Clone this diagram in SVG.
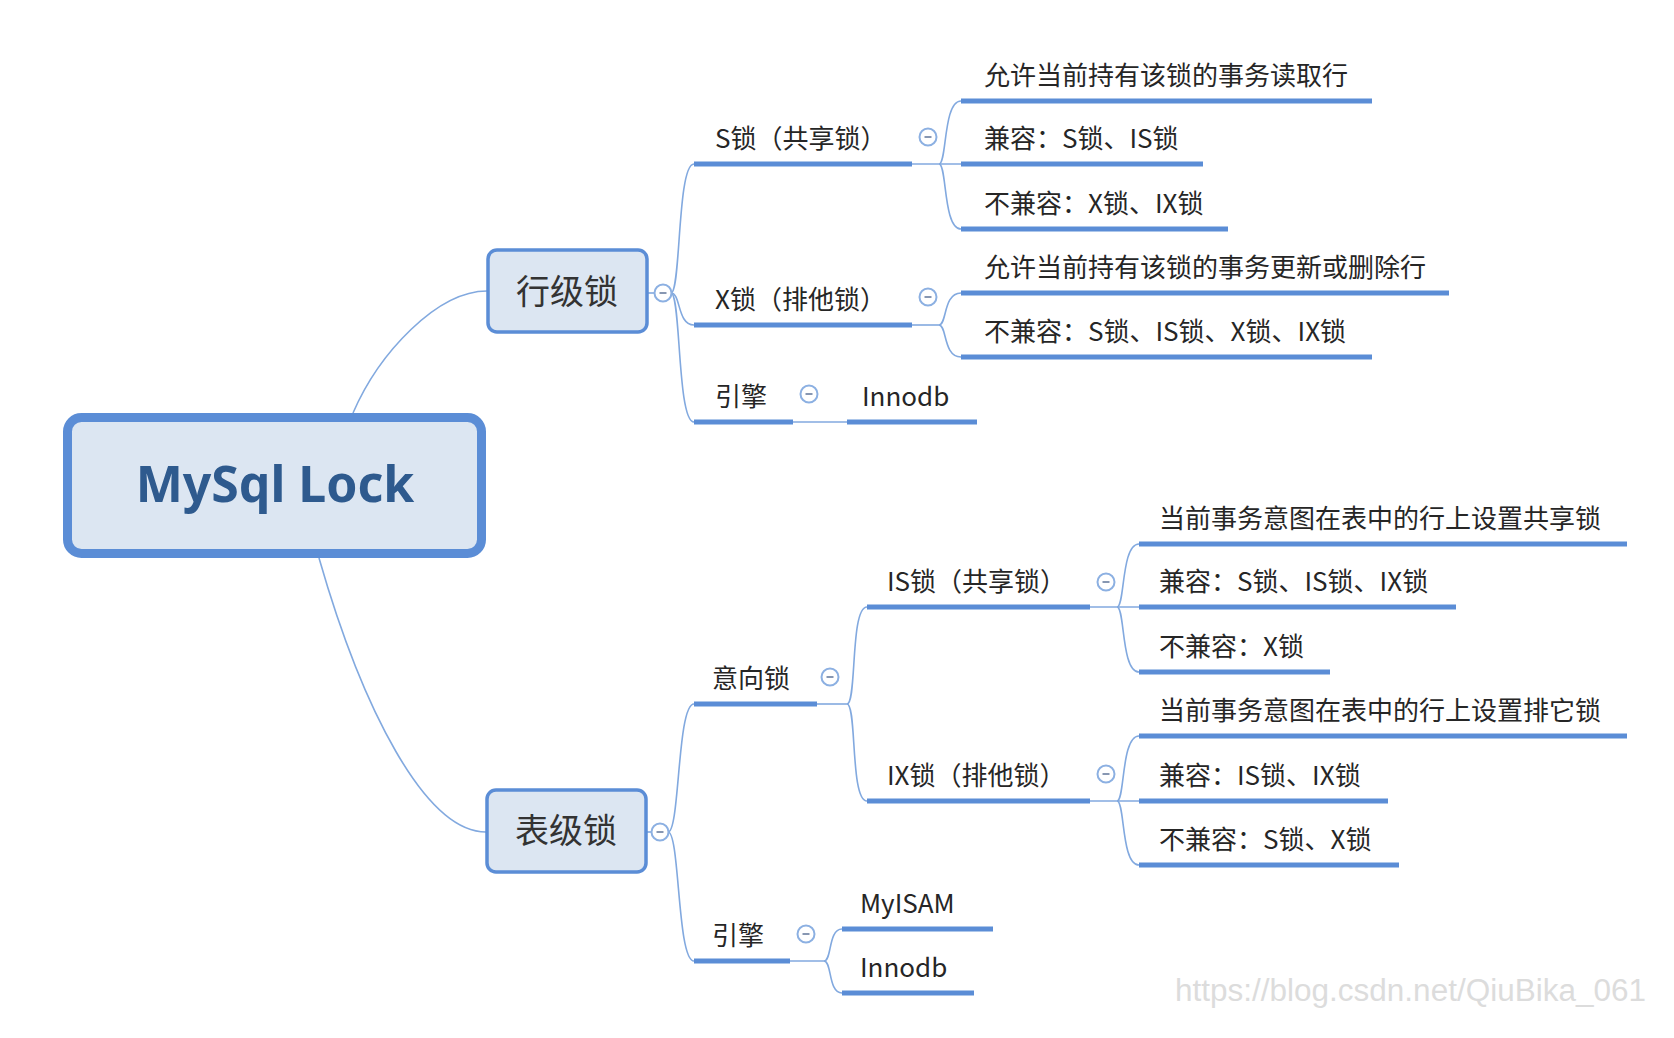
<svg xmlns="http://www.w3.org/2000/svg" width="1674" height="1038" viewBox="0 0 1674 1038">
<style>
.t{font-family:'Noto Sans CJK SC','Noto Sans',sans-serif;font-size:26px;fill:#262626}
.bt{font-family:'Noto Sans CJK SC','Noto Sans',sans-serif;font-size:34px;fill:#333333;text-anchor:middle}
.ul{stroke:#5b8dd6;stroke-width:5;fill:none}
.cn{stroke:#82a9df;stroke-width:1.6;fill:none}
.box{fill:#dce6f2;stroke:#5b8dd6;stroke-width:3.5}
.btn{fill:#ffffff;stroke:#8cb0e2;stroke-width:2}
.mn{stroke:#8797b2;stroke-width:2}
</style>
<defs>
<g id="minus"><circle class="btn" cx="0" cy="0" r="8.5"/><line class="mn" x1="-3.5" y1="0" x2="3.5" y2="0"/></g>
</defs>
<rect width="1674" height="1038" fill="#ffffff"/>
<g id="connectors">
<path class="cn" d="M353,413 C379,353 437,291 487,291"/>
<path class="cn" d="M319,558 C362,708 425,832 486,832"/>
<line class="cn" x1="648" y1="293" x2="655" y2="293"/>
<path class="cn" d="M671,293 C681,293 677,164 694,164"/>
<path class="cn" d="M671,293 C681,293 677,325 694,325"/>
<path class="cn" d="M671,293 C681,293 677,422 694,422"/>
<line class="cn" x1="912" y1="164" x2="961" y2="164"/>
<path class="cn" d="M939,164 C947,164 943,101 961,101"/>
<path class="cn" d="M939,164 C947,164 943,229 961,229"/>
<line class="cn" x1="912" y1="325" x2="939" y2="325"/>
<path class="cn" d="M939,325 C947,325 943,293 961,293"/>
<path class="cn" d="M939,325 C947,325 943,357 961,357"/>
<line class="cn" x1="793" y1="422" x2="847" y2="422"/>
<line class="cn" x1="647" y1="832" x2="652" y2="832"/>
<path class="cn" d="M668,832 C680,832 677,704 694,704"/>
<path class="cn" d="M668,832 C680,832 677,961 694,961"/>
<line class="cn" x1="817" y1="704" x2="847" y2="704"/>
<path class="cn" d="M847,704 C857,704 850,607 867,607"/>
<path class="cn" d="M847,704 C857,704 850,801 867,801"/>
<line class="cn" x1="1090" y1="607" x2="1139" y2="607"/>
<path class="cn" d="M1117,607 C1125,607 1121,544 1139,544"/>
<path class="cn" d="M1117,607 C1125,607 1121,672 1139,672"/>
<line class="cn" x1="1090" y1="801" x2="1139" y2="801"/>
<path class="cn" d="M1117,801 C1125,801 1121,736 1139,736"/>
<path class="cn" d="M1117,801 C1125,801 1121,865 1139,865"/>
<line class="cn" x1="790" y1="961" x2="824" y2="961"/>
<path class="cn" d="M824,961 C832,961 828,929 842,929"/>
<path class="cn" d="M824,961 C832,961 828,993 842,993"/>
</g>
<g id="root">
<rect x="67.5" y="417.5" width="414" height="136" rx="14" fill="#dce6f2" stroke="#5b8dd6" stroke-width="9"/>
<text x="275" y="502" text-anchor="middle" font-family="'Noto Sans','Open Sans',sans-serif" font-weight="bold" font-size="50" fill="#2e5a8e">MySql Lock</text>
</g>
<g id="row-lock">
<rect class="box" x="488" y="250" width="159" height="82" rx="9"/>
<text class="bt" x="567" y="304">行级锁</text>
<use href="#minus" x="663" y="293"/>
</g>
<g id="table-lock">
<rect class="box" x="487" y="790" width="159" height="82" rx="9"/>
<text class="bt" x="566" y="843">表级锁</text>
<use href="#minus" x="660" y="832"/>
</g>
<g id="s-lock"><line class="ul" x1="694" y1="164" x2="912" y2="164"/><text class="t" x="715" y="148">S锁（共享锁）</text><use href="#minus" x="928" y="137"/></g>
<g id="s-1"><line class="ul" x1="961" y1="101" x2="1372" y2="101"/><text class="t" x="984" y="85">允许当前持有该锁的事务读取行</text></g>
<g id="s-2"><line class="ul" x1="961" y1="164" x2="1203" y2="164"/><text class="t" x="984" y="148">兼容：S锁、IS锁</text></g>
<g id="s-3"><line class="ul" x1="961" y1="229" x2="1228" y2="229"/><text class="t" x="984" y="213">不兼容：X锁、IX锁</text></g>
<g id="x-lock"><line class="ul" x1="694" y1="325" x2="912" y2="325"/><text class="t" x="715" y="309">X锁（排他锁）</text><use href="#minus" x="928" y="297"/></g>
<g id="x-1"><line class="ul" x1="961" y1="293" x2="1449" y2="293"/><text class="t" x="984" y="277">允许当前持有该锁的事务更新或删除行</text></g>
<g id="x-2"><line class="ul" x1="961" y1="357" x2="1372" y2="357"/><text class="t" x="984" y="341">不兼容：S锁、IS锁、X锁、IX锁</text></g>
<g id="row-engine"><line class="ul" x1="694" y1="422" x2="793" y2="422"/><text class="t" x="715" y="406">引擎</text><use href="#minus" x="809" y="394"/></g>
<g id="row-innodb"><line class="ul" x1="847" y1="422" x2="977" y2="422"/><text class="t" x="862" y="406">Innodb</text></g>
<g id="intent"><line class="ul" x1="694" y1="704" x2="817" y2="704"/><text class="t" x="712" y="688">意向锁</text><use href="#minus" x="830" y="677"/></g>
<g id="is-lock"><line class="ul" x1="867" y1="607" x2="1090" y2="607"/><text class="t" x="887" y="591">IS锁（共享锁）</text><use href="#minus" x="1106" y="582"/></g>
<g id="is-1"><line class="ul" x1="1139" y1="544" x2="1627" y2="544"/><text class="t" x="1159" y="528">当前事务意图在表中的行上设置共享锁</text></g>
<g id="is-2"><line class="ul" x1="1139" y1="607" x2="1456" y2="607"/><text class="t" x="1159" y="591">兼容：S锁、IS锁、IX锁</text></g>
<g id="is-3"><line class="ul" x1="1139" y1="672" x2="1330" y2="672"/><text class="t" x="1159" y="656">不兼容：X锁</text></g>
<g id="ix-lock"><line class="ul" x1="867" y1="801" x2="1090" y2="801"/><text class="t" x="887" y="785">IX锁（排他锁）</text><use href="#minus" x="1106" y="774"/></g>
<g id="ix-1"><line class="ul" x1="1139" y1="736" x2="1627" y2="736"/><text class="t" x="1159" y="720">当前事务意图在表中的行上设置排它锁</text></g>
<g id="ix-2"><line class="ul" x1="1139" y1="801" x2="1388" y2="801"/><text class="t" x="1159" y="785">兼容：IS锁、IX锁</text></g>
<g id="ix-3"><line class="ul" x1="1139" y1="865" x2="1399" y2="865"/><text class="t" x="1159" y="849">不兼容：S锁、X锁</text></g>
<g id="table-engine"><line class="ul" x1="694" y1="961" x2="790" y2="961"/><text class="t" x="712" y="945">引擎</text><use href="#minus" x="806" y="934"/></g>
<g id="myisam"><line class="ul" x1="842" y1="929" x2="993" y2="929"/><text class="t" x="860" y="913">MyISAM</text></g>
<g id="table-innodb"><line class="ul" x1="842" y1="993" x2="974" y2="993"/><text class="t" x="860" y="977">Innodb</text></g>
<text x="1175" y="1001" font-family="'Liberation Sans',Arial,sans-serif" font-size="31" fill="#dcdcdc" textLength="471" lengthAdjust="spacingAndGlyphs">https://blog.csdn.net/QiuBika_061</text>
</svg>
